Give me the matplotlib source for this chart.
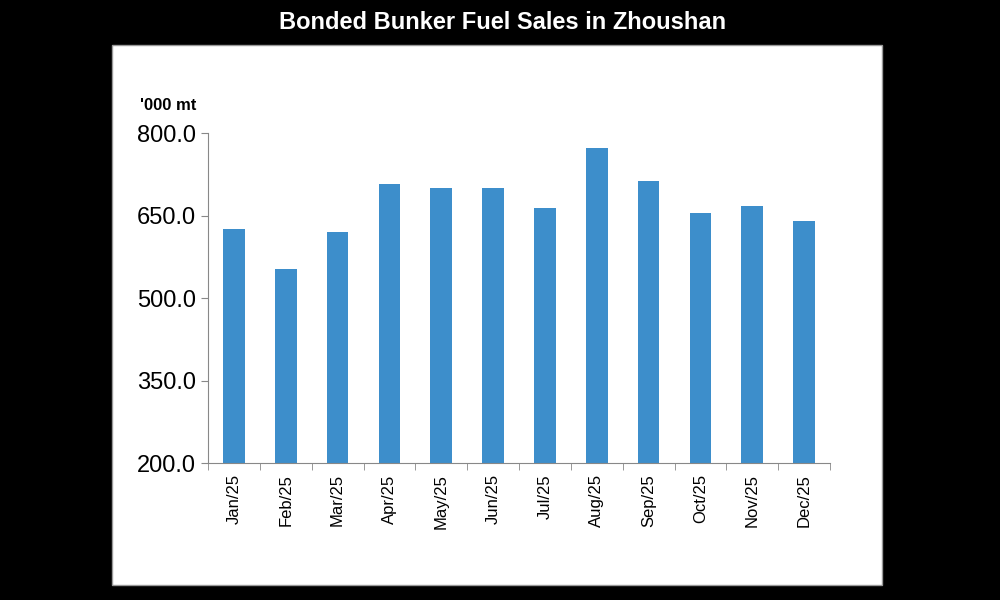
import numpy as np
import matplotlib.pyplot as plt
from matplotlib.patches import Rectangle

months = ['Jan/25', 'Feb/25', 'Mar/25', 'Apr/25', 'May/25', 'Jun/25',
          'Jul/25', 'Aug/25', 'Sep/25', 'Oct/25', 'Nov/25', 'Dec/25']
sales = [626, 553, 620, 707, 700, 700, 664, 773, 713, 655, 667, 640]
yticks = [200, 350, 500, 650, 800]

plt.rcParams['font.family'] = ['Liberation Sans', 'DejaVu Sans']
fig = plt.figure(figsize=(10, 6), dpi=100, facecolor='black')

# white panel behind the axes
fig.patches.append(Rectangle((0.112, 0.025), 0.770, 0.900, transform=fig.transFigure,
                             facecolor='white', edgecolor='#999999', lw=1, zorder=-10))
fig.text(0.503, 0.962, 'Bonded Bunker Fuel Sales in Zhoushan', color='white',
         fontsize=17, fontweight='bold', ha='center', va='center')

ax = fig.add_axes([0.208, 0.228, 0.622, 0.550])
ax.set_zorder(5)
x = np.arange(len(months))
ax.bar(x, sales, width=0.42, color='#3d8ecb', zorder=2)
ax.set_xlim(-0.5, len(months) - 0.5)
ax.set_ylim(200, 800)
ax.set_yticks(yticks)
ax.set_yticklabels([f'{v:.1f}' for v in yticks], fontsize=17)
ax.set_xticks(x)
ax.set_xticklabels(months, rotation=90, fontsize=12)
ax.set_xticks(np.arange(-0.5, len(months)), minor=True)
ax.tick_params(axis='x', which='major', length=0, pad=8)
ax.tick_params(axis='x', which='minor', length=5, color='#888888')
ax.tick_params(axis='y', length=5, color='#888888', direction='out')
for s in ['top', 'right']:
    ax.spines[s].set_visible(False)
for s in ['left', 'bottom']:
    ax.spines[s].set_color('#888888')
ax.text(-0.11, 1.06, "'000 mt", transform=ax.transAxes, fontsize=12,
        fontweight='bold', ha='left', va='bottom')

fig.savefig('out.png', facecolor='black')
